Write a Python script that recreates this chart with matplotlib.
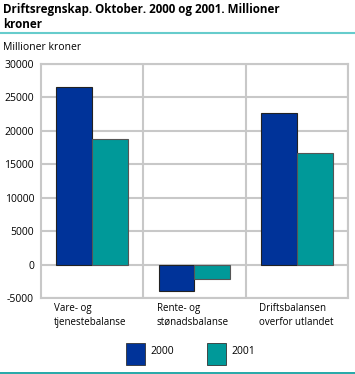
import numpy as np
import matplotlib
matplotlib.use("Agg")
import matplotlib.pyplot as plt
from matplotlib.patches import Rectangle
from matplotlib.lines import Line2D

plt.rcParams['font.family'] = ['Open Sans', 'DejaVu Sans']

# data
categories  = ["Vare- og\ntjenestebalanse", "Rente- og\nstønadsbalanse", "Driftsbalansen\noverfor utlandet"]
years       = ["2000", "2001"]
values_2000 = [26600, -3900, 22600]
values_2001 = [18800, -2100, 16700]
yticks      = [-5000, 0, 5000, 10000, 15000, 20000, 25000, 30000]

col_2000 = "#003399"
col_2001 = "#009999"
grid_col = "#c8c8c8"

W, H = 355, 374
fig = plt.figure(figsize=(W/100, H/100), dpi=100)

# plot area in pixels: left 41, right 348, top 64, bottom 298
ax = fig.add_axes([41/W, 1-298/H, (348-41)/W, (298-64)/H])
ax.set_xlim(0, 3)
ax.set_ylim(-5000, 30000)

x = np.arange(len(categories))
bw = 0.35
ax.bar(x + 0.5 - bw/2, values_2000, bw, color=col_2000, edgecolor="#222222", linewidth=0.8, zorder=3)
ax.bar(x + 0.5 + bw/2, values_2001, bw, color=col_2001, edgecolor="#555555", linewidth=0.8, zorder=3)

ax.set_yticks(yticks)
ax.set_yticklabels([str(v) for v in yticks], fontsize=7.5)
ax.set_xticks([1, 2, 3])
ax.set_xticklabels([])
ax.tick_params(length=0, pad=5)
ax.grid(True, color=grid_col, linewidth=1.5, zorder=0)
for s in ax.spines.values():
    s.set_color(grid_col)
    s.set_linewidth(1.5)

# category labels, left aligned
for i, c in enumerate(categories):
    ax.text(i + 0.13, -5800, c, ha="left", va="top", fontsize=7.0, linespacing=1.35)

# title and unit
fig.text(3/W, 1-3/H, "Driftsregnskap. Oktober. 2000 og 2001. Millioner\nkroner",
         ha="left", va="top", fontsize=8.4, fontweight="bold", linespacing=1.2)
fig.add_artist(Line2D([0, 1], [1-33/H, 1-33/H], color="#66cccc", linewidth=1.5))
fig.text(3/W, 1-47/H, "Millioner kroner", ha="left", va="center", fontsize=7.5)

# legend
for i, (yr, col) in enumerate(zip(years, [col_2000, col_2001])):
    x0 = 126 + i * 81
    fig.add_artist(Rectangle((x0/W, 1-365/H), 19/W, 22/H, facecolor=col,
                             edgecolor="#333333", linewidth=0.6, transform=fig.transFigure))
    fig.text((x0 + 24)/W, 1-352/H, yr, ha="left", va="center", fontsize=7.5)

fig.add_artist(Line2D([0, 1], [1-372.5/H, 1-372.5/H], color="#009999", linewidth=1.2))

fig.savefig("out.png", dpi=100)
